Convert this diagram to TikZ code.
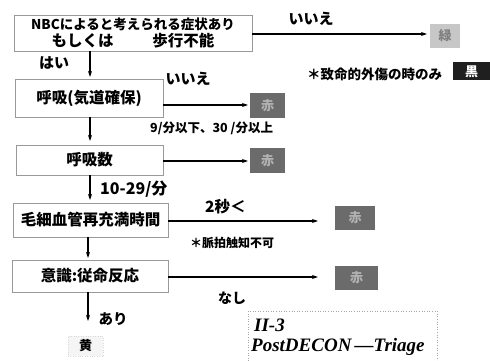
\documentclass[tikz,border=0pt]{standalone}
\usepackage{fontspec}
\setmainfont{Noto Sans CJK JP}
\newfontfamily\titlefont{Liberation Serif}
\usetikzlibrary{arrows.meta}
\tikzset{
  x=1pt,y=-1pt,
  stepbox/.style={draw=gray!80,line width=0.6pt,rectangle,inner sep=0pt,font=\bfseries\fontsize{15.5}{17}\selectfont},
  tag/.style={rectangle,inner sep=0pt,font=\bfseries\fontsize{13}{14}\selectfont},
  lbl/.style={inner sep=0pt,font=\bfseries\fontsize{15}{17}\selectfont},
  note/.style={inner sep=0pt,font=\bfseries\fontsize{12}{14}\selectfont},
  arr/.style={-{Stealth[length=6pt,width=4pt]},line width=1.1pt},
}
\begin{document}
\begin{tikzpicture}
\useasboundingbox (0,0) rectangle (490,361);
% main boxes
\node[stepbox,minimum width=238pt,minimum height=36pt,align=center] (b1) at (133,33)
  {\fontsize{13.5}{17}\selectfont NBCによると考えられる症状あり\\もしくは\hspace{2.5em}歩行不能};
\node[stepbox,minimum width=148pt,minimum height=38pt] (b2) at (89,98) {呼吸(気道確保)};
\node[stepbox,minimum width=147pt,minimum height=30pt] (b3) at (89.5,160) {呼吸数};
\node[stepbox,minimum width=155pt,minimum height=34pt] (b4) at (90.5,220) {毛細血管再充満時間};
\node[stepbox,minimum width=156pt,minimum height=32pt] (b5) at (90,276) {意識:従命反応};
% tags
\node[tag,fill=black!22,minimum width=30pt,minimum height=24pt,text=black!50] (green) at (445,36) {緑};
\node[tag,fill=black!88,minimum width=37pt,minimum height=18pt,text=white] (black) at (471.5,71.5) {黒};
\node[tag,fill=black!58,minimum width=35pt,minimum height=25pt,text=black!30] (r1) at (267.5,105.5) {赤};
\node[tag,fill=black!58,minimum width=35pt,minimum height=25pt,text=black!30] (r2) at (267.5,160.5) {赤};
\node[tag,fill=black!58,minimum width=40pt,minimum height=24pt,text=black!30] (r3) at (355,218) {赤};
\node[tag,fill=black!58,minimum width=43pt,minimum height=24pt,text=black!30] (r4) at (356.5,278) {赤};
\node[tag,fill=gray!8,draw=gray!30,dotted,minimum width=35pt,minimum height=20pt] (yellow) at (85.5,346) {黄};
% connectors
\coordinate (g1) at (427,34);
\draw[arr] (b1.east |- g1) -- (g1);
\draw[arr] (90,51) -- (90,77);
\coordinate (e2) at (248,105);
\draw[arr] (b2.east |- e2) -- (e2);
\draw[arr] (90,117) -- (90,141);
\coordinate (e3) at (248,161);
\draw[arr] (b3.east |- e3) -- (e3);
\draw[arr] (90,175) -- (90,200);
\coordinate (e4) at (318,221);
\draw[arr] (b4.east |- e4) -- (e4);
\draw[arr] (88,237) -- (88,258);
\coordinate (e5) at (318,277);
\draw[arr] (b5.east |- e5) -- (e5);
\draw[arr] (88,292) -- (88,321);
% labels
\node[lbl] (l1) at (311,19) {いいえ};
\node[lbl] (l2) at (54,63) {はい};
\node[lbl] (l3) at (188,79) {いいえ};
\node[note,font=\bfseries\fontsize{13.5}{15}\selectfont,anchor=west] (l4) at (307,74) {＊致命的外傷の時のみ};
\node[note,font=\bfseries\fontsize{12.5}{14}\selectfont,anchor=west] (l5) at (150,128) {9/分以下、30 /分以上};
\node[lbl,font=\bfseries\fontsize{16}{18}\selectfont,anchor=west] (l6) at (100,189) {10-29/分};
\node[lbl,font=\bfseries\fontsize{15.5}{17}\selectfont,anchor=west] (l7) at (205,207) {2秒＜};
\node[note,font=\bfseries\fontsize{12}{13}\selectfont,anchor=west] (l8) at (190,243) {＊脈拍触知不可};
\node[lbl,font=\bfseries\fontsize{14}{16}\selectfont] (l9) at (232,298) {なし};
\node[lbl,font=\bfseries\fontsize{14.5}{16}\selectfont] (l10) at (113,319) {あり};
% title
\draw[gray!70,dotted,line width=0.6pt] (248,361) -- (248,311) -- (437,311) -- (437,361);
\node[inner sep=0pt,anchor=west,font=\titlefont\bfseries\itshape\fontsize{19}{21}\selectfont] (t1) at (254,325) {II-3};
\node[inner sep=0pt,anchor=west,font=\titlefont\bfseries\itshape\fontsize{19}{21}\selectfont] (t2) at (251,347) {PostDECON\,—Triage};
\end{tikzpicture}
\end{document}
